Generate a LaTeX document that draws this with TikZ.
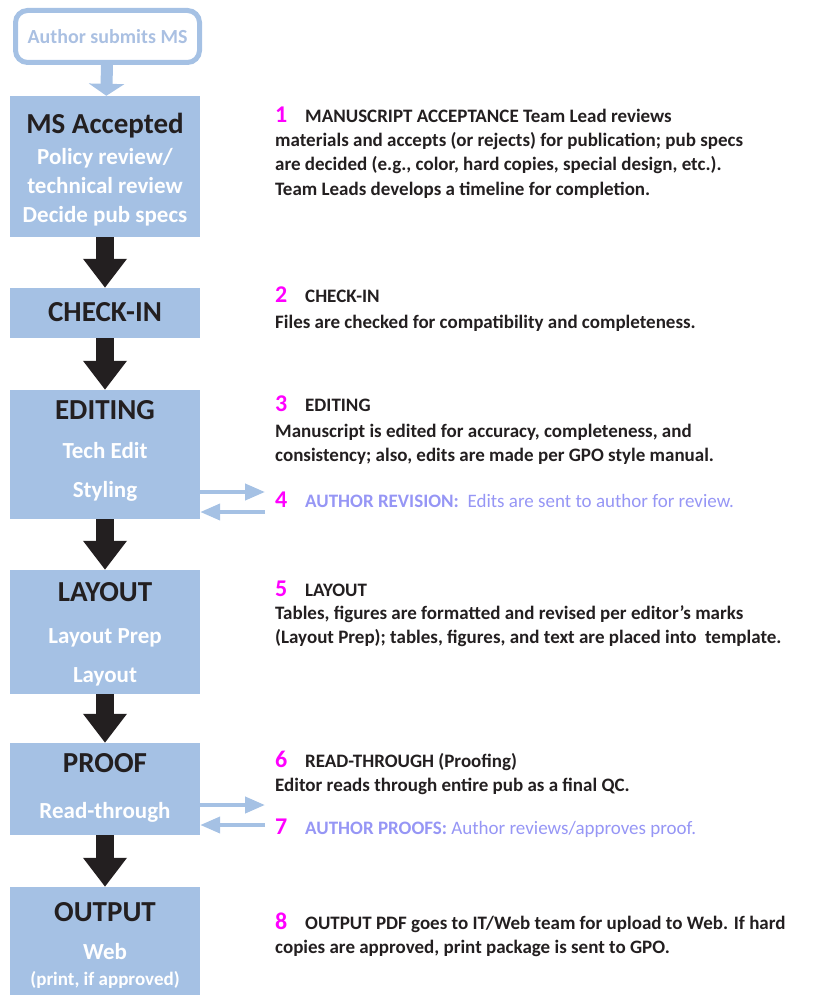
\documentclass[tikz,border=0pt]{standalone}
\usepackage{fontspec}
\setmainfont{Carlito}
\usetikzlibrary{arrows.meta,positioning}
\definecolor{boxblue}{RGB}{165,193,228}
\definecolor{authgray}{RGB}{170,192,226}
\definecolor{titlegray}{RGB}{35,31,32}
\definecolor{numpink}{RGB}{255,0,255}
\definecolor{authblue}{RGB}{150,150,245}
\tikzset{
  stage/.style={fill=boxblue, minimum width=190pt, inner sep=0pt},
  ttl/.style={font=\fontsize{29}{29}\selectfont\bfseries, text=titlegray, inner sep=0pt, text height=0.7em, text depth=0.2em, yshift=-6pt},
  sub/.style={font=\fontsize{23}{23}\selectfont\bfseries, text=white, inner sep=0pt, text height=0.7em, text depth=0.2em, yshift=-5pt},
  txt/.style={anchor=west, font=\fontsize{19}{19}\selectfont\bfseries, text=titlegray, inner sep=0pt, text height=0.7em, text depth=0.2em, yshift=-3pt},
  num/.style={txt, font=\fontsize{24}{24}\selectfont\bfseries, text=numpink},
  auth/.style={txt, text=authblue},
  flow/.style={-{Triangle[width=42pt,length=29pt]}, line width=18pt, draw=titlegray},
  back/.style={-{Triangle[width=16pt,length=20pt]}, line width=4pt, draw=boxblue},
}

\begin{document}
\begin{tikzpicture}[x=1pt,y=-1pt]
  \useasboundingbox (0,0) rectangle (812,995);

  % left column: the stages
  \node[draw=boxblue, line width=5pt, rounded corners=12pt, minimum width=184pt, minimum height=52pt,
        inner sep=0pt, font=\fontsize{20}{20}\selectfont\bfseries, text=authgray] (author) at (107.5,36.5) {Author submits MS};
  \node[stage, minimum height=141pt] (accept) at (105,166.5) {};
  \node[stage, minimum height=50pt] (checkin) at (105,313) {};
  \node[stage, minimum height=129pt] (editing) at (105,454.5) {};
  \node[stage, minimum height=124pt] (layout) at (105,632) {};
  \node[stage, minimum height=92pt] (proof) at (105,789) {};
  \node[stage, minimum height=110pt] (output) at (105,942) {};

  \node[ttl] (acceptT) at (105,125) {MS Accepted};
  \node[sub] (acceptA) at (105,157) {Policy review/};
  \node[sub] (acceptB) at (105,186) {technical review};
  \node[sub] (acceptC) at (105,215) {Decide pub specs};
  \node[ttl] (checkinT) at (105,313) {CHECK-IN};
  \node[ttl] (editingT) at (105,411) {EDITING};
  \node[sub] (editingA) at (105,451) {Tech Edit};
  \node[sub] (editingB) at (105,490) {Styling};
  \node[ttl] (layoutT) at (105,593) {LAYOUT};
  \node[sub] (layoutA) at (105,636) {Layout Prep};
  \node[sub] (layoutB) at (105,675) {Layout};
  \node[ttl] (proofT) at (105,764) {PROOF};
  \node[sub] (proofA) at (105,811) {Read-through};
  \node[ttl] (outputT) at (105,913) {OUTPUT};
  \node[sub] (outputA) at (105,952) {Web};
  \node[sub, font=\fontsize{19}{19}\selectfont\bfseries] (outputB) at (105,978) {(print, if approved)};

  % flow arrows
  \draw[-{Triangle[width=35pt,length=12pt]}, line width=12pt, draw=boxblue] (author) -- (accept);
  \draw[flow] (accept) -- (checkin);
  \draw[flow] (checkin) -- (editing);
  \draw[flow] (editing) -- (layout);
  \draw[flow] (layout) -- (proof);
  \draw[flow] (proof) -- (output);

  % author loops
  \coordinate (revOut) at (265,492);
  \coordinate (revIn) at (265,512);
  \coordinate (prfOut) at (265,805);
  \coordinate (prfIn) at (265,825);
  \draw[back] (editing.east |- revOut) -- (revOut);
  \draw[back] (revIn) -- (editing.east |- revIn);
  \draw[back] (proof.east |- prfOut) -- (prfOut);
  \draw[back] (prfIn) -- (proof.east |- prfIn);

  % right column: the notes
  \node[num] (n1) at (275,117) {1};
  \node[txt] (l1a) at (305,117) {MANUSCRIPT ACCEPTANCE Team Lead reviews};
  \node[txt] (l1b) at (275,141) {materials and accepts (or rejects) for publication; pub specs};
  \node[txt] (l1c) at (275,165) {are decided (e.g., color, hard copies, special design, etc.).};
  \node[txt] (l1d) at (275,190) {Team Leads develops a timeline for completion.};

  \node[num] (n2) at (275,297) {2};
  \node[txt] (l2a) at (305,297) {CHECK-IN};
  \node[txt] (l2b) at (275,323) {Files are checked for compatibility and completeness.};

  \node[num] (n3) at (275,406) {3};
  \node[txt] (l3a) at (305,406) {EDITING};
  \node[txt] (l3b) at (275,432) {Manuscript is edited for accuracy, completeness, and};
  \node[txt] (l3c) at (275,456) {consistency; also, edits are made per GPO style manual.};

  \node[num] (n4) at (275,502) {4};
  \node[auth] (l4a) at (305,502) {AUTHOR REVISION:\ \ \mdseries Edits are sent to author for review.};

  \node[num] (n5) at (275,591) {5};
  \node[txt] (l5a) at (305,591) {LAYOUT};
  \node[txt] (l5b) at (275,614) {Tables, figures are formatted and revised per editor's marks};
  \node[txt] (l5c) at (275,638) {(Layout Prep); tables, figures, and text are placed into\ \ template.};

  \node[num] (n6) at (275,762) {6};
  \node[txt] (l6a) at (305,762) {READ-THROUGH (Proofing)};
  \node[txt] (l6b) at (275,786) {Editor reads through entire pub as a final QC.};

  \node[num] (n7) at (275,829) {7};
  \node[auth] (l7a) at (305,829) {AUTHOR PROOFS: \mdseries Author reviews/approves proof.};

  \node[num] (n8) at (275,924) {8};
  \node[txt] (l8a) at (305,924) {OUTPUT PDF goes to IT/Web team for upload to Web. If hard};
  \node[txt] (l8b) at (275,948) {copies are approved, print package is sent to GPO.};
\end{tikzpicture}
\end{document}
